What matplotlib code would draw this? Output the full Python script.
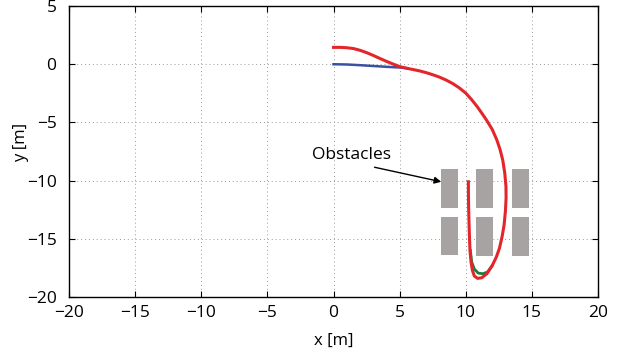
import matplotlib
matplotlib.use("Agg")
import matplotlib.pyplot as plt
from matplotlib.patches import Rectangle

plt.rcParams['font.family'] = ['Open Sans', 'DejaVu Sans']

# Trajectories
red_x = [0.0, 0.5, 1.0, 1.5, 2.0, 2.5, 3.0, 3.5, 4.0, 4.5, 5.0, 5.5, 6.0, 6.5, 7.0, 7.5,
         8.0, 8.5, 9.0, 9.5, 10.0, 10.45, 10.85, 11.2, 11.6, 12.0, 12.35, 12.6, 12.8, 12.95,
         13.04, 13.05, 13.0, 12.9, 12.75, 12.55, 12.3, 12.0, 11.6, 11.2, 10.9, 10.65, 10.5,
         10.4, 10.32, 10.27, 10.22, 10.2, 10.2]
red_y = [1.45, 1.45, 1.42, 1.35, 1.2, 1.0, 0.76, 0.5, 0.25, 0.02, -0.2, -0.34, -0.45, -0.57,
         -0.72, -0.9, -1.1, -1.35, -1.65, -2.02, -2.48, -3.05, -3.62, -4.18, -4.85, -5.6, -6.5,
         -7.35, -8.25, -9.35, -10.5, -11.5, -12.6, -13.8, -14.8, -15.8, -16.6, -17.3, -18.0, -18.35,
         -18.4, -18.2, -17.7, -17.0, -16.0, -14.5, -12.5, -11.0, -10.1]

blue_x = [0.0, 1.0, 2.0, 3.0, 4.0, 5.0, 5.5]
blue_y = [0.0, -0.02, -0.08, -0.15, -0.22, -0.28, -0.33]

green_x = [10.35, 10.45, 10.65, 10.95, 11.3, 11.65, 12.0]
green_y = [-16.0, -17.0, -17.6, -17.95, -18.0, -17.85, -17.3]

# Obstacles (lower-left corner, width, height)
obs_x = [8.1, 8.1, 10.8, 10.8, 13.5, 13.5]
obs_y = [-12.35, -16.4, -12.35, -16.5, -12.35, -16.5]
obs_w = [1.3, 1.3, 1.25, 1.25, 1.3, 1.3]
obs_h = [3.35, 3.3, 3.35, 3.4, 3.35, 3.4]

fig = plt.figure(figsize=(6.31, 3.56), dpi=100)
ax = fig.add_axes([0.1094, 0.1657, 0.8383, 0.8173])

for x, y, w, h in zip(obs_x, obs_y, obs_w, obs_h):
    ax.add_patch(Rectangle((x, y), w, h, facecolor='#a7a3a2', edgecolor='none', zorder=2))

ax.plot(green_x, green_y, color='#1a7f3e', linewidth=2.0, zorder=3)
ax.plot(blue_x, blue_y, color='#3a50a0', linewidth=1.8, zorder=3)
ax.plot(red_x, red_y, color='#e4262a', linewidth=2.2, zorder=4)

# label + arrow pointing at the first obstacle
ax.text(1.36, -7.8, 'Obstacles', ha='center', va='center', fontsize=12.5)
ax.annotate('', xy=(8.15, -10.1), xytext=(3.1, -8.85),
            arrowprops=dict(arrowstyle='-|>', color='black', lw=1.0,
                            shrinkA=0, shrinkB=0, mutation_scale=10))

ax.set_xlim(-20, 20)
ax.set_ylim(-20, 5)
ax.set_xticks(range(-20, 21, 5))
ax.set_yticks(range(-20, 6, 5))
ax.set_xticklabels([str(v).replace('-', '\u2212') for v in range(-20, 21, 5)])
ax.set_yticklabels([str(v).replace('-', '\u2212') for v in range(-20, 6, 5)])
ax.tick_params(direction='in', top=True, right=True, labelsize=12.5, length=4, width=0.8)
ax.tick_params(axis='x', pad=6)
ax.tick_params(axis='y', pad=9)
ax.grid(True, color='#999999', linestyle=(0, (1, 3)), linewidth=0.7)
for s in ax.spines.values():
    s.set_linewidth(1.0)
ax.set_xlabel('x [m]', fontsize=12, labelpad=8)
ax.set_ylabel('y [m]', fontsize=12)
ax.yaxis.set_label_coords(-0.075, 0.53)

fig.savefig('out.png', dpi=100)
